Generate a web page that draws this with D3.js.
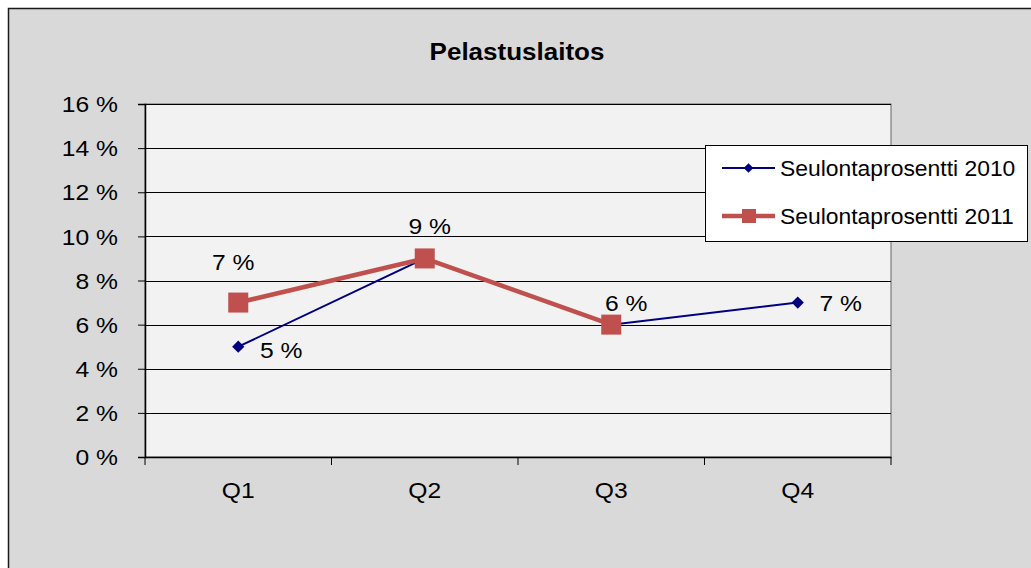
<!DOCTYPE html>
<html><head><meta charset="utf-8">
<script src="https://cdn.jsdelivr.net/npm/d3@7/dist/d3.min.js"></script>
<style>html,body{margin:0;padding:0;background:#fff;overflow:hidden}</style>
</head><body>
<svg id="c" width="1031" height="568"></svg>
<script>
const title = "Pelastuslaitos";
const categories = ["Q1", "Q2", "Q3", "Q4"];
const seriesNames = ["Seulontaprosentti 2010", "Seulontaprosentti 2011"];
const values2010 = [5, 9, 6, 7];
const values2011 = [7, 9, 6, null];
const showLabel2010 = [true, false, false, true];
const showLabel2011 = [true, true, true, false];
const yTicks = [0, 2, 4, 6, 8, 10, 12, 14, 16];
// label offsets (style): [dx, dy] from point centre to label centre
const labelOff2010 = [[43, 4], [0, 0], [0, 0], [43, 1]];
const labelOff2011 = [[-5, -40], [5, -32], [15, -21], [0, 0]];

const svg = d3.select("#c");
const font = "'Liberation Sans', Arial, sans-serif";
const FS = 22;
function stretch(sel, k) {
  sel.each(function () {
    const w = this.getComputedTextLength();
    d3.select(this).attr("textLength", w * k).attr("lengthAdjust", "spacingAndGlyphs");
  });
}

svg.append("rect").attr("x", 8.5).attr("y", 8.5).attr("width", 1060).attr("height", 600)
  .attr("fill", "#d9d9d9").attr("stroke", "#1a1a1a").attr("stroke-width", 1.5);

const m = {l: 145, t: 104, r: 891, b: 457};
const x = d3.scaleBand().domain(categories).range([m.l, m.r]);
const y = d3.scaleLinear().domain([0, 16]).range([m.b, m.t]);

svg.append("rect").attr("x", m.l).attr("y", m.t).attr("width", m.r - m.l).attr("height", m.b - m.t)
  .attr("fill", "#f2f2f2").attr("stroke", "#666").attr("stroke-width", 1);

svg.append("g").selectAll("line").data(yTicks.filter(d => d > 0)).join("line")
  .attr("x1", m.l).attr("x2", m.r).attr("y1", d => Math.round(y(d)) + 0.5).attr("y2", d => Math.round(y(d)) + 0.5)
  .attr("stroke", "#000").attr("stroke-width", 1);

const yAxis = svg.append("g").attr("transform", `translate(${m.l},0)`)
  .call(d3.axisLeft(y).tickValues(yTicks).tickSize(7).tickPadding(20).tickFormat(d => d + " %"));
yAxis.select(".domain").attr("stroke", "#000").attr("stroke-width", 1.5);
yAxis.selectAll(".tick line").attr("stroke", "#000");
yAxis.selectAll("text").attr("font-family", font).attr("font-size", FS).attr("fill", "#000").attr("dy", "0.35em")
  .attr("x", -27);
stretch(yAxis.selectAll("text"), 1.12);

const xAxis = svg.append("g").attr("transform", `translate(0,${m.b})`)
  .call(d3.axisBottom(x).tickSize(0).tickPadding(25));
xAxis.select(".domain").attr("stroke", "#000").attr("stroke-width", 1.5);
xAxis.selectAll("text").attr("font-family", font).attr("font-size", FS).attr("fill", "#000");
stretch(xAxis.selectAll("text"), 1.12);
const bounds = categories.map(c => x(c)).concat([m.r]);
svg.append("g").selectAll("line").data(bounds).join("line")
  .attr("x1", d => d).attr("x2", d => d).attr("y1", m.b).attr("y2", m.b + 8)
  .attr("stroke", "#000").attr("stroke-width", 1);

const cx = c => x(c) + x.bandwidth() / 2;
const d2011 = categories.map((c, i) => ({c, v: values2011[i], s: showLabel2011[i], o: labelOff2011[i]})).filter(d => d.v != null);
const d2010 = categories.map((c, i) => ({c, v: values2010[i], s: showLabel2010[i], o: labelOff2010[i]})).filter(d => d.v != null);
const line = d3.line().x(d => cx(d.c)).y(d => y(d.v));

// 2010 (navy) first, 2011 drawn on top
svg.append("path").datum(d2010).attr("d", line).attr("fill", "none")
  .attr("stroke", "#000080").attr("stroke-width", 2);
svg.append("g").selectAll("path").data(d2010).join("path")
  .attr("d", d3.symbol(d3.symbolDiamond2, 95)())
  .attr("transform", d => `translate(${cx(d.c)},${y(d.v)})`)
  .attr("fill", "#000080");

svg.append("path").datum(d2011).attr("d", line).attr("fill", "none")
  .attr("stroke", "#c0504d").attr("stroke-width", 4.5).attr("stroke-linejoin", "round");
svg.append("g").selectAll("rect").data(d2011).join("rect")
  .attr("x", d => cx(d.c) - 10).attr("y", d => y(d.v) - 10).attr("width", 20).attr("height", 20)
  .attr("fill", "#c0504d");

const labs = svg.append("g").selectAll("text")
  .data(d2011.filter(d => d.s).concat(d2010.filter(d => d.s))).join("text")
  .attr("x", d => cx(d.c) + d.o[0]).attr("y", d => y(d.v) + d.o[1]).attr("dy", "0.35em")
  .attr("text-anchor", "middle").attr("font-family", font).attr("font-size", FS).attr("fill", "#000")
  .text(d => d.v + " %");
stretch(labs, 1.12);

const t = svg.append("text").attr("x", 517).attr("y", 60).attr("text-anchor", "middle")
  .attr("font-family", font).attr("font-size", 23).attr("font-weight", "bold").attr("fill", "#000")
  .text(title);
stretch(t, 1.13);

const lg = svg.append("g");
lg.append("rect").attr("x", 705.5).attr("y", 145.5).attr("width", 322).attr("height", 96)
  .attr("fill", "#fff").attr("stroke", "#000").attr("stroke-width", 1);
const rows = [{name: seriesNames[0], color: "#000080", w: 2, sym: "diamond"},
              {name: seriesNames[1], color: "#c0504d", w: 4.5, sym: "square"}];
rows.forEach((r, i) => {
  const yy = 168 + i * 48;
  lg.append("line").attr("x1", 722).attr("x2", 775).attr("y1", yy).attr("y2", yy)
    .attr("stroke", r.color).attr("stroke-width", r.w);
  if (r.sym === "diamond") {
    lg.append("path").attr("d", d3.symbol(d3.symbolDiamond2, 60)()).attr("transform", `translate(748.5,${yy})`).attr("fill", r.color);
  } else {
    lg.append("rect").attr("x", 742).attr("y", yy - 7).attr("width", 14).attr("height", 14).attr("fill", r.color);
  }
  const tx = lg.append("text").attr("x", 780).attr("y", yy).attr("dy", "0.35em")
    .attr("font-family", font).attr("font-size", FS).attr("fill", "#000").text(r.name);
  stretch(tx, 1.04);
});
</script>
</body></html>
